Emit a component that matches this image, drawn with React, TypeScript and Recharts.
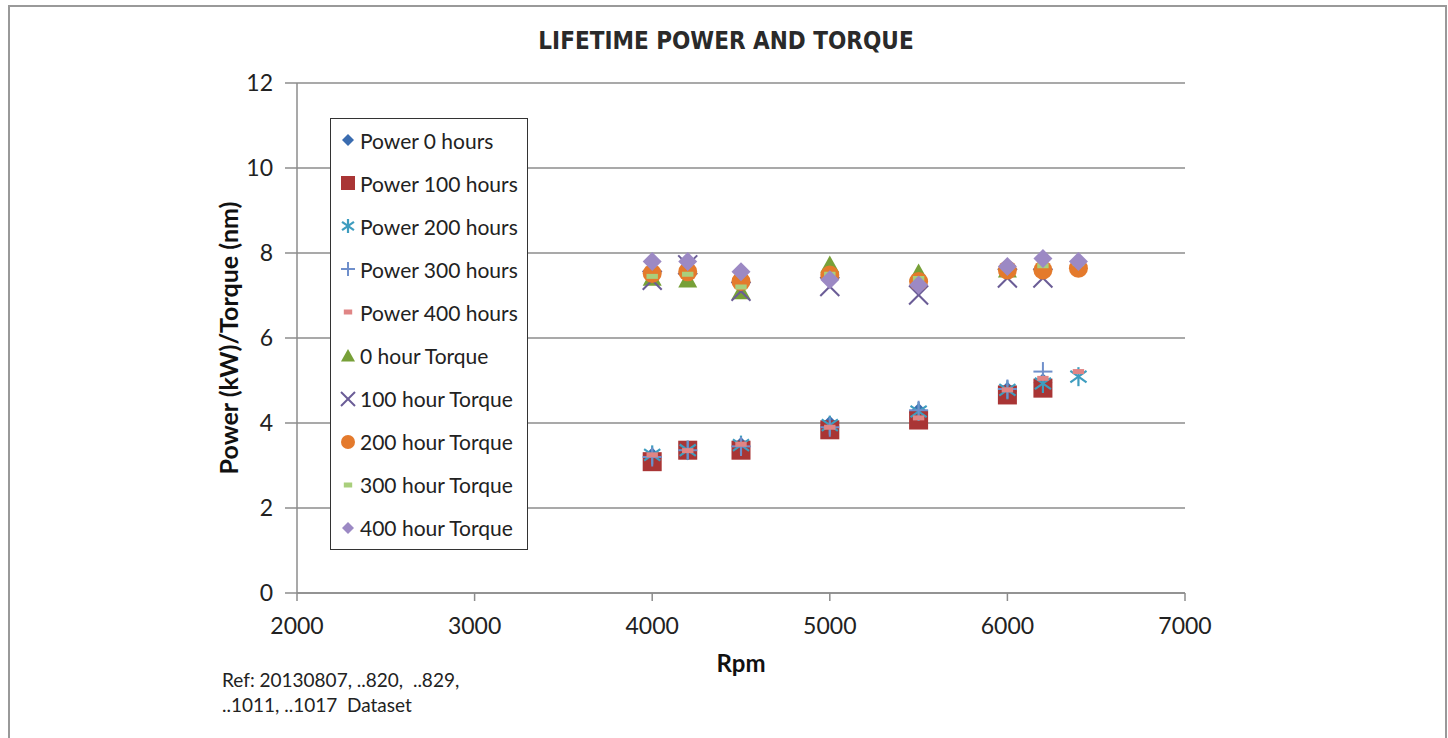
import React from "react";
import { ScatterChart, Scatter, XAxis, YAxis, CartesianGrid, Legend } from "recharts";

// rpm points shared by every series; null = no reading
const rpm = [4000, 4200, 4500, 5000, 5500, 6000, 6200, 6400];

const power0 = [3.2, 3.35, 3.45, 3.95, 4.25, 4.75, 4.95, null];
const power100 = [3.09, 3.36, 3.36, 3.84, 4.07, 4.66, 4.82, null];
const power200 = [3.25, 3.36, 3.48, 3.95, 4.27, 4.78, 4.93, 5.09];
const power300 = [3.2, 3.36, 3.45, 3.9, 4.3, 4.8, 5.21, null];
const power400 = [3.25, 3.35, 3.5, 3.9, 4.12, 4.78, 5.05, 5.21];
const torque0 = [7.41, 7.37, 7.09, 7.72, 7.53, 7.6, 7.75, null];
const torque100 = [7.36, 7.72, 7.1, 7.21, 7.01, 7.41, 7.41, null];
const torque200 = [7.52, 7.56, 7.33, 7.48, 7.33, 7.6, 7.6, 7.64];
const torque300 = [7.45, 7.5, 7.2, 7.5, 7.4, 7.65, 7.7, 7.75];
const torque400 = [7.8, 7.8, 7.56, 7.37, 7.25, 7.68, 7.87, 7.8];

const xTicks = [2000, 3000, 4000, 5000, 6000, 7000];
const yTicks = [0, 2, 4, 6, 8, 10, 12];

type Kind = "diamond" | "square" | "asterisk" | "plus" | "dash" | "triangle" | "x" | "circle";

const series: { name: string; values: (number | null)[]; kind: Kind; color: string }[] = [
  { name: "Power 0 hours", values: power0, kind: "diamond", color: "#3A6CB0" },
  { name: "Power 100 hours", values: power100, kind: "square", color: "#A93535" },
  { name: "Power 200 hours", values: power200, kind: "asterisk", color: "#3E9DBF" },
  { name: "Power 300 hours", values: power300, kind: "plus", color: "#6F8FCB" },
  { name: "Power 400 hours", values: power400, kind: "dash", color: "#E08585" },
  { name: "0 hour Torque", values: torque0, kind: "triangle", color: "#77A038" },
  { name: "100 hour Torque", values: torque100, kind: "x", color: "#6A5C96" },
  { name: "200 hour Torque", values: torque200, kind: "circle", color: "#E47A2C" },
  { name: "300 hour Torque", values: torque300, kind: "dash", color: "#A9CF7C" },
  { name: "400 hour Torque", values: torque400, kind: "diamond", color: "#9C89C4" },
];

const FONT = "Lato, 'Open Sans', sans-serif";
const GRID = "#8C8C8C";

function Marker({ cx, cy, kind, color, s }: { cx: number; cy: number; kind: Kind; color: string; s: number }) {
  const h = s / 2;
  switch (kind) {
    case "diamond":
      return <polygon points={`${cx},${cy - h} ${cx + h},${cy} ${cx},${cy + h} ${cx - h},${cy}`} fill={color} />;
    case "square":
      return <rect x={cx - h} y={cy - h} width={s} height={s} fill={color} />;
    case "triangle":
      return <polygon points={`${cx},${cy - h} ${cx + h},${cy + h * 0.8} ${cx - h},${cy + h * 0.8}`} fill={color} />;
    case "circle":
      return <circle cx={cx} cy={cy} r={h} fill={color} />;
    case "x":
      return (
        <g stroke={color} strokeWidth={2}>
          <line x1={cx - h} y1={cy - h} x2={cx + h} y2={cy + h} />
          <line x1={cx - h} y1={cy + h} x2={cx + h} y2={cy - h} />
        </g>
      );
    case "plus":
      return (
        <g stroke={color} strokeWidth={2}>
          <line x1={cx - h} y1={cy} x2={cx + h} y2={cy} />
          <line x1={cx} y1={cy - h} x2={cx} y2={cy + h} />
        </g>
      );
    case "asterisk":
      return (
        <g stroke={color} strokeWidth={2.2}>
          <line x1={cx - h * 0.85} y1={cy - h * 0.6} x2={cx + h * 0.85} y2={cy + h * 0.6} />
          <line x1={cx - h * 0.85} y1={cy + h * 0.6} x2={cx + h * 0.85} y2={cy - h * 0.6} />
          <line x1={cx} y1={cy - h} x2={cx} y2={cy + h} />
        </g>
      );
    case "dash":
    default:
      return <rect x={cx - h * 0.6} y={cy - 2.5} width={s * 0.6} height={5} fill={color} />;
  }
}

function LegendBox() {
  return (
    <div
      style={{
        position: "absolute",
        left: 330,
        top: 118,
        width: 196,
        height: 430,
        border: "1.5px solid #333",
        background: "#fff",
        fontFamily: FONT,
        fontSize: 21,
        color: "#222",
      }}
    >
      {series.map((s, i) => (
        <div key={s.name} style={{ position: "absolute", left: 0, top: 8 + i * 43.1, height: 26, display: "flex", alignItems: "center" }}>
          <svg width={29} height={26} style={{ display: "block" }}>
            <Marker cx={17} cy={13} kind={s.kind} color={s.color} s={s.kind === "diamond" ? 12 : 14} />
          </svg>
          <span style={{ whiteSpace: "nowrap" }}>{s.name}</span>
        </div>
      ))}
    </div>
  );
}

export default function App() {
  return (
    <div style={{ position: "absolute", left: 0, top: 0, width: 1448, height: 738, background: "#fff", overflow: "hidden" }}>
      <div
        style={{
          position: "absolute",
          left: 8,
          top: 5,
          width: 1435,
          height: 760,
          borderTop: "2px solid #999",
          borderLeft: "2px solid #999",
          borderRight: "2px solid #999",
        }}
      />
      <div
        style={{
          position: "absolute",
          left: 0,
          width: 1452,
          top: 27,
          textAlign: "center",
          fontFamily: "'DejaVu Sans', sans-serif",
          fontStretch: "condensed",
          fontWeight: "bold",
          fontSize: 24,
          color: "#2a2a2a",
        }}
      >
        LIFETIME POWER AND TORQUE
      </div>
      <div style={{ position: "absolute", left: 0, top: 0 }}>
        <ScatterChart width={1448} height={738} margin={{ top: 83, right: 263, bottom: 85, left: 161 }}>
          <CartesianGrid horizontal vertical={false} stroke={GRID} strokeWidth={1.5} />
          <XAxis
            type="number"
            dataKey="x"
            domain={[2000, 7000]}
            ticks={xTicks}
            height={60}
            tickSize={8}
            tickMargin={17}
            stroke={GRID}
            strokeWidth={1.5}
            tick={{ fontSize: 23, fill: "#222", fontFamily: FONT }}
            label={{ value: "Rpm", position: "bottom", offset: 2, style: { fontSize: 24, fontWeight: "bold", fill: "#111", fontFamily: FONT } }}
          />
          <YAxis
            type="number"
            dataKey="y"
            domain={[0, 12]}
            ticks={yTicks}
            width={136}
            tickSize={12}
            tickMargin={12}
            stroke={GRID}
            strokeWidth={1.5}
            tick={{ fontSize: 23, fill: "#222", fontFamily: FONT }}
            label={{
              value: "Power (kW)/Torque (nm)",
              angle: -90,
              position: "center",
              style: { fontSize: 25, fontWeight: "bold", fill: "#111", fontFamily: FONT, textAnchor: "middle" },
            }}
          />
          {series.map((s) => (
            <Scatter
              key={s.name}
              name={s.name}
              data={rpm.map((x, i) => ({ x, y: s.values[i] })).filter((d) => d.y !== null)}
              fill={s.color}
              isAnimationActive={false}
              shape={(p: any) => <Marker cx={p.cx} cy={p.cy} kind={s.kind} color={s.color} s={19} />}
            />
          ))}
          <Legend content={() => null} />
        </ScatterChart>
      </div>
      <LegendBox />
      <div style={{ position: "absolute", left: 222, top: 667, fontFamily: FONT, fontSize: 19, lineHeight: "25px", color: "#222" }}>
        Ref: 20130807, ..820,&nbsp; ..829,
        <br />
        ..1011, ..1017&nbsp; Dataset
      </div>
    </div>
  );
}
